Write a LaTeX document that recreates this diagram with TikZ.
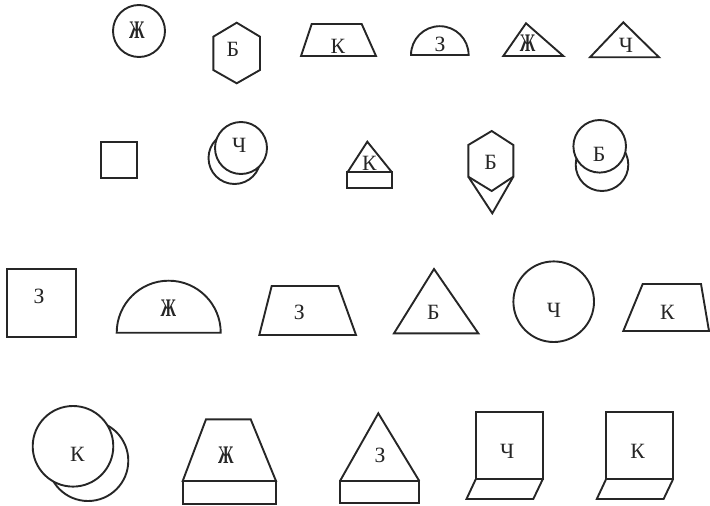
\documentclass[tikz,border=0pt]{standalone}
\usepackage{fontspec}
\setmainfont{Liberation Serif}
\usepackage{tikz}
\tikzset{
  fig/.style={line width=1.35pt,black!85,line join=miter},
  cover/.style={fig,fill=white},
  lbl/.style={inner sep=0pt,text=black!85,font=\fontsize{15.5}{18}\selectfont},
  zh/.style={lbl,font=\fontsize{18}{20}\selectfont\bfseries},
}
% narrow star-like letter Zhe
\newcommand{\Zhe}{\scalebox{0.62}[1]{Ж}}
% open book: left x, top y of the page, its label and the node name
\newcommand{\Book}[4]{%
  \draw[fig] (#1,#2) rectangle ++(67,67);
  \draw[fig] (#1,#2+67) -- ++(-9.2,19.7) -- ++(66.8,0) -- ++(9.4,-19.7);
  \node[lbl] (#4) at (#1+31.6,#2+39.5) {#3};
}

\begin{document}
\begin{tikzpicture}[x=0.025cm,y=-0.025cm]
  \useasboundingbox (0,0) rectangle (710,506);
  % row 1
  \draw[fig] (139,31) circle[radius=26];
  \node[zh] (t11) at (137,30) {\Zhe};
  \draw[fig] (236.7,22.7) -- (260,36.7) -- (260,70) -- (236.7,83.3)
    -- (213.3,70) -- (213.3,36.7) -- cycle;
  \node[lbl] (t12) at (233,49) {Б};
  \draw[fig] (311.7,24) -- (361.7,24) -- (376,56) -- (301,56) -- cycle;
  \node[lbl] (t13) at (338,46) {К};
  \draw[fig] (411,55) arc[start angle=180,end angle=0,radius=0.72cm] -- cycle;
  \node[lbl] (t14) at (440,44) {З};
  \draw[fig] (503.3,56) -- (526,23.3) -- (563.3,56) -- cycle;
  \node[zh] (t15) at (527.7,43.3) {\Zhe};
  \draw[fig] (590,57.3) -- (623.3,22.3) -- (659,57.3) -- cycle;
  \node[lbl] (t16) at (626,45) {Ч};
  % row 2
  \draw[fig] (100.7,142.3) rectangle (136.7,178.3);
  \draw[fig] (234.5,158) circle[radius=26];
  \draw[cover] (241,148) circle[radius=26];
  \node[lbl] (t22) at (239.3,145) {Ч};
  \draw[fig] (346.7,172) rectangle (392.3,188.3);
  \draw[fig] (347.7,172) -- (367.3,141.7) -- (391.7,172);
  \node[lbl] (t23) at (369.3,163.3) {К};
  \draw[fig] (491.7,131) -- (513.3,145) -- (513.3,176.7) -- (491.7,191)
    -- (468.3,176.7) -- (468.3,145) -- cycle;
  \draw[fig] (468.3,176.7) -- (492.3,213.3) -- (513.3,176.7);
  \node[lbl] (t24) at (490.7,162.7) {Б};
  \draw[fig] (602,164.7) circle[radius=26.3];
  \draw[cover] (599.7,146.3) circle[radius=26.3];
  \node[lbl] (t25) at (599,154.3) {Б};
  % row 3
  \draw[fig] (7.3,269) rectangle (76,337.3);
  \node[lbl] (t31) at (39,296.7) {З};
  \draw[fig] (116.7,332.7) arc[start angle=180,end angle=0,radius=1.3cm] -- cycle;
  \node[zh] (t32) at (168.3,308.3) {\Zhe};
  \draw[fig] (271.7,286) -- (338.3,286) -- (356,335) -- (259.3,335) -- cycle;
  \node[lbl] (t33) at (299.3,312.3) {З};
  \draw[fig] (394,333.3) -- (434,269) -- (478.3,333.3) -- cycle;
  \node[lbl] (t34) at (433.3,312.7) {Б};
  \draw[fig] (553.7,301.7) circle[radius=40.3];
  \node[lbl] (t35) at (554,310.7) {Ч};
  \draw[fig] (642.7,284) -- (701,284) -- (709,331) -- (623.3,331) -- cycle;
  \node[lbl] (t36) at (667.3,312.7) {К};
  % row 4
  \draw[fig] (88,460.7) circle[radius=40.3];
  \draw[cover] (73,446.3) circle[radius=40.3];
  \node[lbl] (t41) at (77.3,454) {К};
  \draw[fig] (206,419.3) -- (250.7,419.3) -- (276,481) -- (182.7,481) -- cycle;
  \draw[fig] (182.7,481) rectangle (276,504);
  \node[zh] (t42) at (226,455) {\Zhe};
  \draw[fig] (340,481) -- (378.3,413.3) -- (419.3,481);
  \draw[fig] (340,481) rectangle (419.3,503.3);
  \node[lbl] (t43) at (380,455) {З};
  \Book{475.7}{412.3}{Ч}{t44}
  \Book{606}{412.3}{К}{t45}
\end{tikzpicture}
\end{document}
